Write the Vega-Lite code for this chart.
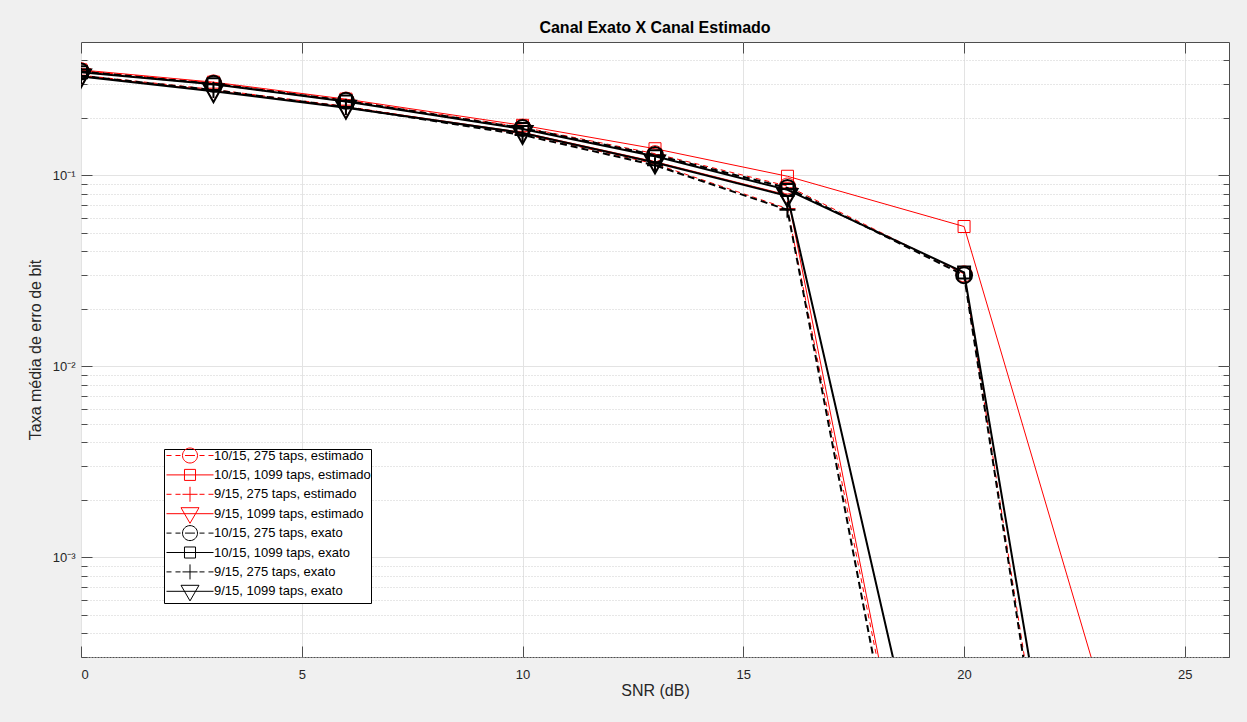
{
  "$schema": "https://vega.github.io/schema/vega-lite/v6.json",
  "width": 1148,
  "height": 615,
  "autosize": {"type": "none"},
  "padding": {"left": 81, "top": 42, "right": 18, "bottom": 65},
  "background": "#f0f0f0",
  "title": {"text": "Canal Exato X Canal Estimado", "font": "Liberation Sans", "fontSize": 16, "fontWeight": "bold", "color": "#000000", "offset": 6, "anchor": "middle"},
  "config": {
    "view": {"fill": "white", "stroke": "#4d4d4d", "strokeWidth": 1},
    "axis": {"labelFont": "Liberation Sans", "labelFontSize": 13, "labelColor": "#262626", "titleFont": "Liberation Sans", "titleFontSize": 16, "titleFontWeight": "normal", "titleColor": "#262626", "domain": false, "tickColor": "#4d4d4d", "gridColor": "#e3e3e3", "gridWidth": 1},
    "legend": {"orient": "none", "legendX": 83, "legendY": 407, "direction": "vertical", "strokeColor": "#000000", "fillColor": "#ffffff", "padding": 0, "symbolSize": 144, "symbolOffset": 19.5, "labelOffset": 17.5, "rowPadding": -2.6, "gridAlign": "all", "labelFont": "Liberation Sans", "labelFontSize": 13, "labelColor": "#000000", "labelLimit": 400, "symbolOpacity": 1}
  },
  "data": {"values": [
    {"snr": 0, "ber": 0.354, "serie": "10/15, 275 taps, estimado"},
    {"snr": 3, "ber": 0.305, "serie": "10/15, 275 taps, estimado"},
    {"snr": 6, "ber": 0.248, "serie": "10/15, 275 taps, estimado"},
    {"snr": 10, "ber": 0.179, "serie": "10/15, 275 taps, estimado"},
    {"snr": 13, "ber": 0.130, "serie": "10/15, 275 taps, estimado"},
    {"snr": 16, "ber": 0.088, "serie": "10/15, 275 taps, estimado"},
    {"snr": 20, "ber": 0.0305, "serie": "10/15, 275 taps, estimado"},
    {"snr": 23, "ber": 0.0000012, "serie": "10/15, 275 taps, estimado"},
    {"snr": 0, "ber": 0.357, "serie": "10/15, 1099 taps, estimado"},
    {"snr": 3, "ber": 0.308, "serie": "10/15, 1099 taps, estimado"},
    {"snr": 6, "ber": 0.251, "serie": "10/15, 1099 taps, estimado"},
    {"snr": 10, "ber": 0.183, "serie": "10/15, 1099 taps, estimado"},
    {"snr": 13, "ber": 0.138, "serie": "10/15, 1099 taps, estimado"},
    {"snr": 16, "ber": 0.099, "serie": "10/15, 1099 taps, estimado"},
    {"snr": 20, "ber": 0.054, "serie": "10/15, 1099 taps, estimado"},
    {"snr": 23, "ber": 0.00024, "serie": "10/15, 1099 taps, estimado"},
    {"snr": 0, "ber": 0.335, "serie": "9/15, 275 taps, estimado"},
    {"snr": 3, "ber": 0.282, "serie": "9/15, 275 taps, estimado"},
    {"snr": 6, "ber": 0.230, "serie": "9/15, 275 taps, estimado"},
    {"snr": 10, "ber": 0.165, "serie": "9/15, 275 taps, estimado"},
    {"snr": 13, "ber": 0.115, "serie": "9/15, 275 taps, estimado"},
    {"snr": 16, "ber": 0.067, "serie": "9/15, 275 taps, estimado"},
    {"snr": 20, "ber": 0.0000015, "serie": "9/15, 275 taps, estimado"},
    {"snr": 0, "ber": 0.333, "serie": "9/15, 1099 taps, estimado"},
    {"snr": 3, "ber": 0.278, "serie": "9/15, 1099 taps, estimado"},
    {"snr": 6, "ber": 0.228, "serie": "9/15, 1099 taps, estimado"},
    {"snr": 10, "ber": 0.168, "serie": "9/15, 1099 taps, estimado"},
    {"snr": 13, "ber": 0.118, "serie": "9/15, 1099 taps, estimado"},
    {"snr": 16, "ber": 0.079, "serie": "9/15, 1099 taps, estimado"},
    {"snr": 20, "ber": 0.0000016, "serie": "9/15, 1099 taps, estimado"},
    {"snr": 0, "ber": 0.350, "serie": "10/15, 275 taps, exato"},
    {"snr": 3, "ber": 0.302, "serie": "10/15, 275 taps, exato"},
    {"snr": 6, "ber": 0.246, "serie": "10/15, 275 taps, exato"},
    {"snr": 10, "ber": 0.177, "serie": "10/15, 275 taps, exato"},
    {"snr": 13, "ber": 0.128, "serie": "10/15, 275 taps, exato"},
    {"snr": 16, "ber": 0.086, "serie": "10/15, 275 taps, exato"},
    {"snr": 20, "ber": 0.030, "serie": "10/15, 275 taps, exato"},
    {"snr": 23, "ber": 0.000001, "serie": "10/15, 275 taps, exato"},
    {"snr": 0, "ber": 0.347, "serie": "10/15, 1099 taps, exato"},
    {"snr": 3, "ber": 0.300, "serie": "10/15, 1099 taps, exato"},
    {"snr": 6, "ber": 0.244, "serie": "10/15, 1099 taps, exato"},
    {"snr": 10, "ber": 0.175, "serie": "10/15, 1099 taps, exato"},
    {"snr": 13, "ber": 0.126, "serie": "10/15, 1099 taps, exato"},
    {"snr": 16, "ber": 0.084, "serie": "10/15, 1099 taps, exato"},
    {"snr": 20, "ber": 0.031, "serie": "10/15, 1099 taps, exato"},
    {"snr": 23, "ber": 0.0000024, "serie": "10/15, 1099 taps, exato"},
    {"snr": 0, "ber": 0.332, "serie": "9/15, 275 taps, exato"},
    {"snr": 3, "ber": 0.280, "serie": "9/15, 275 taps, exato"},
    {"snr": 6, "ber": 0.228, "serie": "9/15, 275 taps, exato"},
    {"snr": 10, "ber": 0.163, "serie": "9/15, 275 taps, exato"},
    {"snr": 13, "ber": 0.113, "serie": "9/15, 275 taps, exato"},
    {"snr": 16, "ber": 0.066, "serie": "9/15, 275 taps, exato"},
    {"snr": 20, "ber": 0.000001, "serie": "9/15, 275 taps, exato"},
    {"snr": 0, "ber": 0.330, "serie": "9/15, 1099 taps, exato"},
    {"snr": 3, "ber": 0.276, "serie": "9/15, 1099 taps, exato"},
    {"snr": 6, "ber": 0.226, "serie": "9/15, 1099 taps, exato"},
    {"snr": 10, "ber": 0.167, "serie": "9/15, 1099 taps, exato"},
    {"snr": 13, "ber": 0.117, "serie": "9/15, 1099 taps, exato"},
    {"snr": 16, "ber": 0.078, "serie": "9/15, 1099 taps, exato"},
    {"snr": 20, "ber": 0.000007, "serie": "9/15, 1099 taps, exato"}
  ]},
  "layer": [
    {
      "transform": [{"filter": "indexof(datum.serie, 'estimado') >= 0 && indexof(datum.serie, ' 275 ') > 0"}],
      "mark": {"type": "line", "color": "#ff0000", "strokeWidth": 1, "strokeDash": [5, 4], "clip": true},
      "encoding": {
        "x": {"field": "snr", "type": "quantitative", "scale": {"domain": [0, 26], "nice": false},
          "axis": {"orient": "bottom", "values": [0, 5, 10, 15, 20, 25], "grid": true, "tickSize": -11, "labelPadding": 22, "title": "SNR (dB)", "titleY": 25, "titleBaseline": "top"}},
        "y": {"field": "ber", "type": "quantitative", "scale": {"type": "log", "domain": [0.0003, 0.5], "nice": false},
          "axis": {"orient": "left", "values": [0.001, 0.01, 0.1], "grid": true, "tickSize": -11, "labelPadding": 17, "labelExpr": "datum.value < 0.002 ? '10⁻³' : datum.value < 0.02 ? '10⁻²' : '10⁻¹'", "title": "Taxa média de erro de bit", "titleX": -46, "titleY": 307.5, "titleAngle": 270, "titleAlign": "center", "titleBaseline": "middle"}},
        "detail": {"field": "serie"}
      }
    },
    {
      "transform": [{"filter": "indexof(datum.serie, 'estimado') >= 0 && indexof(datum.serie, ' 1099 ') > 0"}],
      "mark": {"type": "line", "color": "#ff0000", "strokeWidth": 1, "clip": true},
      "encoding": {
        "x": {"field": "snr", "type": "quantitative", "scale": {"domain": [0, 26], "nice": false},
          "axis": {"orient": "top", "values": [0, 5, 10, 15, 20, 25], "grid": false, "labels": false, "tickSize": -11, "title": null}},
        "y": {"field": "ber", "type": "quantitative", "scale": {"type": "log", "domain": [0.0003, 0.5], "nice": false},
          "axis": {"orient": "left", "values": [0.0003, 0.0004, 0.0005, 0.0006, 0.0007, 0.0008, 0.0009, 0.002, 0.003, 0.004, 0.005, 0.006, 0.007, 0.008, 0.009, 0.02, 0.03, 0.04, 0.05, 0.06, 0.07, 0.08, 0.09, 0.2, 0.3, 0.4], "grid": true, "gridDash": [1, 2], "gridColor": "#cfcfcf", "labels": false, "tickSize": -6, "title": null}},
        "detail": {"field": "serie"}
      }
    },
    {
      "transform": [{"filter": "datum.serie == '10/15, 275 taps, estimado'"}],
      "mark": {"type": "point", "shape": "M-1.33,0A1.33,1.33 0 1,0 1.33,0A1.33,1.33 0 1,0 -1.33,0", "filled": false, "color": "#ff0000", "strokeWidth": 1, "size": 144, "opacity": 1, "clip": true},
      "encoding": {"x": {"field": "snr", "type": "quantitative", "axis": null}, "y": {"field": "ber", "type": "quantitative", "axis": null}}
    },
    {
      "transform": [{"filter": "datum.serie == '10/15, 1099 taps, estimado'"}],
      "mark": {"type": "point", "shape": "M-1,-1H1V1H-1Z", "filled": false, "color": "#ff0000", "strokeWidth": 1, "size": 144, "opacity": 1, "clip": true},
      "encoding": {"x": {"field": "snr", "type": "quantitative", "axis": null}, "y": {"field": "ber", "type": "quantitative", "axis": null}}
    },
    {
      "transform": [{"filter": "datum.serie == '9/15, 275 taps, estimado'"}],
      "mark": {"type": "point", "shape": "M-1.33,0H1.33M0,-1.33V1.33", "filled": false, "color": "#ff0000", "strokeWidth": 1, "size": 144, "opacity": 1, "clip": true},
      "encoding": {"x": {"field": "snr", "type": "quantitative", "axis": null}, "y": {"field": "ber", "type": "quantitative", "axis": null}}
    },
    {
      "transform": [{"filter": "datum.serie == '9/15, 1099 taps, estimado'"}],
      "mark": {"type": "point", "shape": "M-1.67,-1.17H1.67L0,1.83Z", "filled": false, "color": "#ff0000", "strokeWidth": 1, "size": 144, "opacity": 1, "clip": true},
      "encoding": {"x": {"field": "snr", "type": "quantitative", "axis": null}, "y": {"field": "ber", "type": "quantitative", "axis": null}}
    },
    {
      "transform": [{"filter": "indexof(datum.serie, 'exato') >= 0 && indexof(datum.serie, ' 275 ') > 0"}],
      "mark": {"type": "line", "color": "#000000", "strokeWidth": 2, "strokeDash": [7, 4], "clip": true},
      "encoding": {
        "x": {"field": "snr", "type": "quantitative", "axis": null},
        "y": {"field": "ber", "type": "quantitative",
          "axis": {"orient": "right", "values": [0.001, 0.01, 0.1], "grid": false, "labels": false, "tickSize": -11, "title": null}},
        "detail": {"field": "serie"}
      }
    },
    {
      "transform": [{"filter": "indexof(datum.serie, 'exato') >= 0 && indexof(datum.serie, ' 1099 ') > 0"}],
      "mark": {"type": "line", "color": "#000000", "strokeWidth": 2, "clip": true},
      "encoding": {
        "x": {"field": "snr", "type": "quantitative", "axis": null},
        "y": {"field": "ber", "type": "quantitative",
          "axis": {"orient": "right", "values": [0.0003, 0.0004, 0.0005, 0.0006, 0.0007, 0.0008, 0.0009, 0.002, 0.003, 0.004, 0.005, 0.006, 0.007, 0.008, 0.009, 0.02, 0.03, 0.04, 0.05, 0.06, 0.07, 0.08, 0.09, 0.2, 0.3, 0.4], "grid": false, "labels": false, "tickSize": -6, "title": null}},
        "detail": {"field": "serie"}
      }
    },
    {
      "transform": [{"filter": "datum.serie == '10/15, 275 taps, exato'"}],
      "mark": {"type": "point", "shape": "M-1.33,0A1.33,1.33 0 1,0 1.33,0A1.33,1.33 0 1,0 -1.33,0", "filled": false, "color": "#000000", "strokeWidth": 2, "size": 144, "opacity": 1, "clip": true},
      "encoding": {"x": {"field": "snr", "type": "quantitative", "axis": null}, "y": {"field": "ber", "type": "quantitative", "axis": null}}
    },
    {
      "transform": [{"filter": "datum.serie == '10/15, 1099 taps, exato'"}],
      "mark": {"type": "point", "shape": "M-1,-1H1V1H-1Z", "filled": false, "color": "#000000", "strokeWidth": 2, "size": 144, "opacity": 1, "clip": true},
      "encoding": {"x": {"field": "snr", "type": "quantitative", "axis": null}, "y": {"field": "ber", "type": "quantitative", "axis": null}}
    },
    {
      "transform": [{"filter": "datum.serie == '9/15, 275 taps, exato'"}],
      "mark": {"type": "point", "shape": "M-1.33,0H1.33M0,-1.33V1.33", "filled": false, "color": "#000000", "strokeWidth": 2, "size": 144, "opacity": 1, "clip": true},
      "encoding": {"x": {"field": "snr", "type": "quantitative", "axis": null}, "y": {"field": "ber", "type": "quantitative", "axis": null}}
    },
    {
      "transform": [{"filter": "datum.serie == '9/15, 1099 taps, exato'"}],
      "mark": {"type": "point", "shape": "M-1.67,-1.17H1.67L0,1.83Z", "filled": false, "color": "#000000", "strokeWidth": 2, "size": 144, "opacity": 1, "clip": true},
      "encoding": {"x": {"field": "snr", "type": "quantitative", "axis": null}, "y": {"field": "ber", "type": "quantitative", "axis": null}}
    },
    {
      "mark": {"type": "point", "filled": false, "opacity": 0, "clip": true},
      "encoding": {
        "x": {"field": "snr", "type": "quantitative", "axis": null},
        "y": {"field": "ber", "type": "quantitative", "axis": null},
        "color": {"field": "serie", "type": "nominal",
          "scale": {"domain": ["10/15, 275 taps, estimado", "10/15, 1099 taps, estimado", "9/15, 275 taps, estimado", "9/15, 1099 taps, estimado", "10/15, 275 taps, exato", "10/15, 1099 taps, exato", "9/15, 275 taps, exato", "9/15, 1099 taps, exato"],
            "range": ["#ff0000", "#ff0000", "#ff0000", "#ff0000", "#000000", "#000000", "#000000", "#000000"]},
          "legend": {"title": null, "labelExpr": "datum.label + '\u2003\u2003'"}},
        "shape": {"field": "serie", "type": "nominal",
          "scale": {"domain": ["10/15, 275 taps, estimado", "10/15, 1099 taps, estimado", "9/15, 275 taps, estimado", "9/15, 1099 taps, estimado", "10/15, 275 taps, exato", "10/15, 1099 taps, exato", "9/15, 275 taps, exato", "9/15, 1099 taps, exato"],
            "range": [
              "M-3.92,0H-3.08M-2.42,0H-1.58M-0.83,0H0.83M1.58,0H2.42M3.08,0H3.92M-1.25,0A1.25,1.25 0 1,0 1.25,0A1.25,1.25 0 1,0 -1.25,0",
              "M-3.92,0H3.92M-0.92,-0.92H0.92V0.92H-0.92Z",
              "M-3.92,0H-3.08M-2.42,0H-1.58M-1.25,0H1.25M1.58,0H2.42M3.08,0H3.92M0,-1.25V1.25",
              "M-3.92,0H3.92M-1.5,-1H1.5L0,1.6Z",
              "M-3.92,0H-3.08M-2.42,0H-1.58M-0.83,0H0.83M1.58,0H2.42M3.08,0H3.92M-1.25,0A1.25,1.25 0 1,0 1.25,0A1.25,1.25 0 1,0 -1.25,0",
              "M-3.92,0H3.92M-0.92,-0.92H0.92V0.92H-0.92Z",
              "M-3.92,0H-3.08M-2.42,0H-1.58M-1.25,0H1.25M1.58,0H2.42M3.08,0H3.92M0,-1.25V1.25",
              "M-3.92,0H3.92M-1.5,-1H1.5L0,1.6Z"]},
          "legend": {"title": null, "labelExpr": "datum.label + '\u2003\u2003'"}},
        "strokeWidth": {"field": "serie", "type": "nominal",
          "scale": {"domain": ["10/15, 275 taps, estimado", "10/15, 1099 taps, estimado", "9/15, 275 taps, estimado", "9/15, 1099 taps, estimado", "10/15, 275 taps, exato", "10/15, 1099 taps, exato", "9/15, 275 taps, exato", "9/15, 1099 taps, exato"],
            "range": [1, 1, 1, 1, 2, 2, 2, 2]},
          "legend": {"title": null, "labelExpr": "datum.label + '\u2003\u2003'"}}
      }
    }
  ],
  "resolve": {"axis": {"x": "independent", "y": "independent"}}
}
